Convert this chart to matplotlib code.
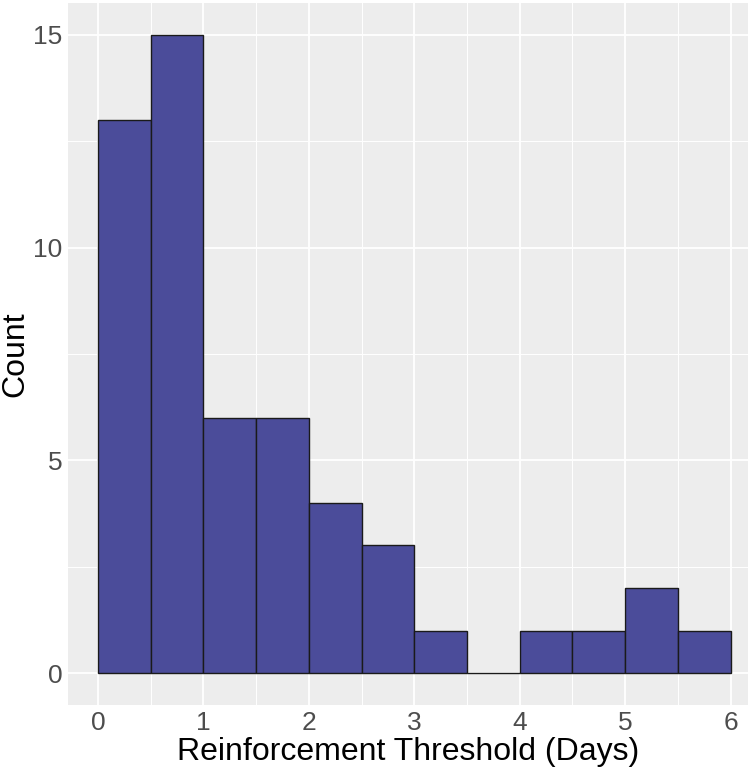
import matplotlib
matplotlib.use("Agg")
import matplotlib.pyplot as plt
import numpy as np

# histogram bins (days) and counts
bin_edges = [0.0, 0.5, 1.0, 1.5, 2.0, 2.5, 3.0, 3.5, 4.0, 4.5, 5.0, 5.5, 6.0]
counts = [13, 15, 6, 6, 4, 3, 1, 0, 1, 1, 2, 1]
x_ticks = [0, 1, 2, 3, 4, 5, 6]
y_ticks = [0, 5, 10, 15]

plt.rcParams['font.family'] = ['Liberation Sans', 'DejaVu Sans']

fig = plt.figure(figsize=(7.5, 7.68), dpi=100)
ax = fig.add_axes([0.0907, 0.082, 0.906, 0.914])

ax.set_facecolor("#EDEDED")
for s in ax.spines.values():
    s.set_visible(False)

# grid: major + minor, white
ax.set_xticks(x_ticks)
ax.set_yticks(y_ticks)
ax.set_xticks(np.arange(0.5, 6, 1), minor=True)
ax.set_yticks([2.5, 7.5, 12.5], minor=True)
ax.grid(True, which="major", color="white", linewidth=1.3)
ax.grid(True, which="minor", color="white", linewidth=0.7)
ax.set_axisbelow(True)

widths = np.diff(bin_edges)
ax.bar(bin_edges[:-1], counts, width=widths, align="edge",
       color="#4B4C9A", edgecolor="#1a1a1a", linewidth=1.0)

ax.set_xlim(-0.284, 6.16)
ax.set_ylim(-0.75, 15.75)

ax.tick_params(axis="both", which="both", length=0, labelsize=19,
               labelcolor="#4D4D4D", pad=4)
ax.tick_params(axis="x", which="minor", labelbottom=False)
ax.tick_params(axis="y", which="minor", labelleft=False)

ax.set_xlabel("Reinforcement Threshold (Days)", fontsize=23, color="black")
ax.xaxis.set_label_coords(0.5, -0.045)
ax.set_ylabel("Count", fontsize=23, color="black")
ax.yaxis.set_label_coords(-0.055, 0.5)

fig.savefig("out.png", dpi=100, facecolor="white")
